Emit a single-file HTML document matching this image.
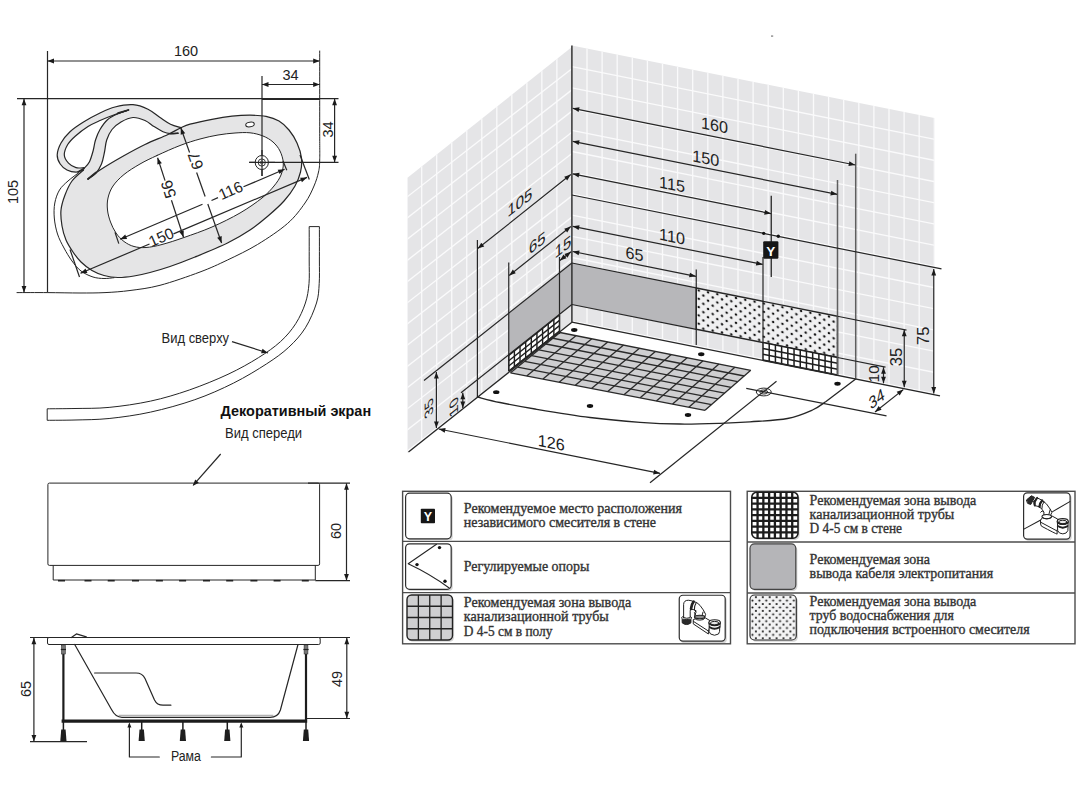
<!DOCTYPE html>
<html><head><meta charset="utf-8"><title>Bathtub installation diagram</title>
<style>html,body{margin:0;padding:0;background:#fff;}body{width:1085px;height:800px;overflow:hidden;font-family:"Liberation Sans",sans-serif;}svg{display:block}</style>
</head><body>
<svg width="1085" height="800" viewBox="0 0 1085 800">
<rect width="1085" height="800" fill="#fff"/>
<g id="topview">
<path d="M88.00,179.00 C90.00,177.50 94.25,173.75 100.00,170.00 C105.75,166.25 115.00,160.75 122.50,156.50 C130.00,152.25 137.50,148.13 145.00,144.50 C152.50,140.87 161.50,137.50 167.50,134.70 C173.50,131.90 177.25,129.45 181.00,127.70 C184.75,125.95 184.83,125.60 190.00,124.20 C195.17,122.80 205.00,120.63 212.00,119.30 C219.00,117.97 225.67,116.88 232.00,116.20 C238.33,115.52 244.33,115.18 250.00,115.20 C255.67,115.22 261.17,115.33 266.00,116.30 C270.83,117.27 275.17,118.72 279.00,121.00 C282.83,123.28 286.00,126.33 289.00,130.00 C292.00,133.67 294.92,138.33 297.00,143.00 C299.08,147.67 300.92,153.17 301.50,158.00 C302.08,162.83 301.58,167.33 300.50,172.00 C299.42,176.67 297.75,181.17 295.00,186.00 C292.25,190.83 288.50,196.00 284.00,201.00 C279.50,206.00 273.67,211.17 268.00,216.00 C262.33,220.83 256.75,225.50 250.00,230.00 C243.25,234.50 236.67,238.50 227.50,243.00 C218.33,247.50 204.58,253.08 195.00,257.00 C185.42,260.92 177.50,263.92 170.00,266.50 C162.50,269.08 156.00,270.92 150.00,272.50 C144.00,274.08 139.33,275.17 134.00,276.00 C128.67,276.83 123.00,277.58 118.00,277.50 C113.00,277.42 108.33,276.67 104.00,275.50 C99.67,274.33 95.83,272.75 92.00,270.50 C88.17,268.25 84.17,265.08 81.00,262.00 C77.83,258.92 75.50,255.67 73.00,252.00 C70.50,248.33 67.83,244.33 66.00,240.00 C64.17,235.67 62.83,231.00 62.00,226.00 C61.17,221.00 60.50,215.17 61.00,210.00 C61.50,204.83 63.17,199.83 65.00,195.00 C66.83,190.17 68.92,185.17 72.00,181.00 C75.08,176.83 81.58,171.83 83.50,170.00 Z" fill="#e5e5e6" stroke="none"/>
<path d="M181.00,127.70 C179.25,127.12 174.00,125.90 170.50,124.20 C167.00,122.50 163.75,120.00 160.00,117.50 C156.25,115.00 152.50,111.33 148.00,109.20 C143.50,107.07 138.50,105.07 133.00,104.70 C127.50,104.33 120.50,105.62 115.00,107.00 C109.50,108.38 105.25,110.50 100.00,113.00 C94.75,115.50 88.50,118.88 83.50,122.00 C78.50,125.12 73.75,128.20 70.00,131.70 C66.25,135.20 63.13,139.12 61.00,143.00 C58.87,146.88 57.33,151.50 57.20,155.00 C57.07,158.50 58.57,161.50 60.20,164.00 C61.83,166.50 64.37,168.63 67.00,170.00 C69.63,171.37 73.25,172.20 76.00,172.20 C78.75,172.20 82.25,170.37 83.50,170.00 L88,179 L88.00,179.00 C89.25,178.12 93.25,176.20 95.50,173.70 C97.75,171.20 100.00,167.62 101.50,164.00 C103.00,160.38 103.63,156.00 104.50,152.00 C105.37,148.00 105.45,143.75 106.70,140.00 C107.95,136.25 109.62,132.50 112.00,129.50 C114.38,126.50 117.50,124.00 121.00,122.00 C124.50,120.00 129.00,117.75 133.00,117.50 C137.00,117.25 141.50,119.00 145.00,120.50 C148.50,122.00 151.00,124.63 154.00,126.50 C157.00,128.37 160.25,130.50 163.00,131.70 C165.75,132.90 168.00,133.45 170.50,133.70 C173.00,133.95 176.75,133.28 178.00,133.20 Z" fill="#e5e5e6" stroke="none"/>
<path d="M84.20,167.70 C82.83,167.70 78.62,168.45 76.00,167.70 C73.38,166.95 70.45,165.32 68.50,163.20 C66.55,161.08 64.43,158.12 64.30,155.00 C64.17,151.88 65.88,147.63 67.70,144.50 C69.52,141.37 71.82,139.20 75.20,136.20 C78.58,133.20 83.87,129.12 88.00,126.50 C92.13,123.88 95.50,122.50 100.00,120.50 C104.50,118.50 110.25,116.25 115.00,114.50 C119.75,112.75 126.25,110.75 128.50,110.00 L128.50,110.00 C126.75,110.62 121.50,112.08 118.00,113.70 C114.50,115.32 110.50,117.07 107.50,119.70 C104.50,122.33 102.00,126.12 100.00,129.50 C98.00,132.88 96.63,136.50 95.50,140.00 C94.37,143.50 94.20,146.88 93.20,150.50 C92.20,154.12 91.00,158.75 89.50,161.70 C88.00,164.65 85.08,167.12 84.20,168.20 Z" fill="#fff" stroke="none"/>
<path d="M88.00,179.00 C90.00,177.50 94.25,173.75 100.00,170.00 C105.75,166.25 115.00,160.75 122.50,156.50 C130.00,152.25 137.50,148.13 145.00,144.50 C152.50,140.87 161.50,137.50 167.50,134.70 C173.50,131.90 177.25,129.45 181.00,127.70 C184.75,125.95 184.83,125.60 190.00,124.20 C195.17,122.80 205.00,120.63 212.00,119.30 C219.00,117.97 225.67,116.88 232.00,116.20 C238.33,115.52 244.33,115.18 250.00,115.20 C255.67,115.22 261.17,115.33 266.00,116.30 C270.83,117.27 275.17,118.72 279.00,121.00 C282.83,123.28 286.00,126.33 289.00,130.00 C292.00,133.67 294.92,138.33 297.00,143.00 C299.08,147.67 300.92,153.17 301.50,158.00 C302.08,162.83 301.58,167.33 300.50,172.00 C299.42,176.67 297.75,181.17 295.00,186.00 C292.25,190.83 288.50,196.00 284.00,201.00 C279.50,206.00 273.67,211.17 268.00,216.00 C262.33,220.83 256.75,225.50 250.00,230.00 C243.25,234.50 236.67,238.50 227.50,243.00 C218.33,247.50 204.58,253.08 195.00,257.00 C185.42,260.92 177.50,263.92 170.00,266.50 C162.50,269.08 156.00,270.92 150.00,272.50 C144.00,274.08 139.33,275.17 134.00,276.00 C128.67,276.83 123.00,277.58 118.00,277.50 C113.00,277.42 108.33,276.67 104.00,275.50 C99.67,274.33 95.83,272.75 92.00,270.50 C88.17,268.25 84.17,265.08 81.00,262.00 C77.83,258.92 75.50,255.67 73.00,252.00 C70.50,248.33 67.83,244.33 66.00,240.00 C64.17,235.67 62.83,231.00 62.00,226.00 C61.17,221.00 60.50,215.17 61.00,210.00 C61.50,204.83 63.17,199.83 65.00,195.00 C66.83,190.17 68.92,185.17 72.00,181.00 C75.08,176.83 81.58,171.83 83.50,170.00" fill="none" stroke="#262626" stroke-width="1.2" stroke-linejoin="round" stroke-linecap="round" />
<path d="M181.00,127.70 C179.25,127.12 174.00,125.90 170.50,124.20 C167.00,122.50 163.75,120.00 160.00,117.50 C156.25,115.00 152.50,111.33 148.00,109.20 C143.50,107.07 138.50,105.07 133.00,104.70 C127.50,104.33 120.50,105.62 115.00,107.00 C109.50,108.38 105.25,110.50 100.00,113.00 C94.75,115.50 88.50,118.88 83.50,122.00 C78.50,125.12 73.75,128.20 70.00,131.70 C66.25,135.20 63.13,139.12 61.00,143.00 C58.87,146.88 57.33,151.50 57.20,155.00 C57.07,158.50 58.57,161.50 60.20,164.00 C61.83,166.50 64.37,168.63 67.00,170.00 C69.63,171.37 73.25,172.20 76.00,172.20 C78.75,172.20 82.25,170.37 83.50,170.00" fill="none" stroke="#262626" stroke-width="1.2" stroke-linejoin="round" stroke-linecap="round" />
<path d="M88.00,179.00 C89.25,178.12 93.25,176.20 95.50,173.70 C97.75,171.20 100.00,167.62 101.50,164.00 C103.00,160.38 103.63,156.00 104.50,152.00 C105.37,148.00 105.45,143.75 106.70,140.00 C107.95,136.25 109.62,132.50 112.00,129.50 C114.38,126.50 117.50,124.00 121.00,122.00 C124.50,120.00 129.00,117.75 133.00,117.50 C137.00,117.25 141.50,119.00 145.00,120.50 C148.50,122.00 151.00,124.63 154.00,126.50 C157.00,128.37 160.25,130.50 163.00,131.70 C165.75,132.90 168.00,133.45 170.50,133.70 C173.00,133.95 176.75,133.28 178.00,133.20" fill="none" stroke="#262626" stroke-width="1.2" stroke-linejoin="round" stroke-linecap="round" />
<path d="M84.20,167.70 C82.83,167.70 78.62,168.45 76.00,167.70 C73.38,166.95 70.45,165.32 68.50,163.20 C66.55,161.08 64.43,158.12 64.30,155.00 C64.17,151.88 65.88,147.63 67.70,144.50 C69.52,141.37 71.82,139.20 75.20,136.20 C78.58,133.20 83.87,129.12 88.00,126.50 C92.13,123.88 95.50,122.50 100.00,120.50 C104.50,118.50 110.25,116.25 115.00,114.50 C119.75,112.75 126.25,110.75 128.50,110.00" fill="none" stroke="#262626" stroke-width="1.2" stroke-linejoin="round" stroke-linecap="round" />
<path d="M128.50,110.00 C126.75,110.62 121.50,112.08 118.00,113.70 C114.50,115.32 110.50,117.07 107.50,119.70 C104.50,122.33 102.00,126.12 100.00,129.50 C98.00,132.88 96.63,136.50 95.50,140.00 C94.37,143.50 94.20,146.88 93.20,150.50 C92.20,154.12 91.00,158.75 89.50,161.70 C88.00,164.65 85.08,167.12 84.20,168.20" fill="none" stroke="#262626" stroke-width="1.2" stroke-linejoin="round" stroke-linecap="round" />
<path d="M128.5,110 L118,113.2" fill="none" stroke="#262626" stroke-width="1.8" stroke-linejoin="round" stroke-linecap="round" />
<path d="M88,179 L96,172.5" fill="none" stroke="#262626" stroke-width="1.8" stroke-linejoin="round" stroke-linecap="round" />
<path d="M178,133.2 L170,133.8" fill="none" stroke="#262626" stroke-width="1.6" stroke-linejoin="round" stroke-linecap="round" />
<path d="M84,168.5 L78,172" fill="none" stroke="#262626" stroke-width="1.6" stroke-linejoin="round" stroke-linecap="round" />
<path d="M79.00,172.50 C77.17,173.92 71.25,178.08 68.00,181.00 C64.75,183.92 61.70,186.33 59.50,190.00 C57.30,193.67 55.67,198.33 54.80,203.00 C53.93,207.67 53.85,212.83 54.30,218.00 C54.75,223.17 55.88,229.00 57.50,234.00 C59.12,239.00 61.58,243.50 64.00,248.00 C66.42,252.50 69.17,257.17 72.00,261.00 C74.83,264.83 77.50,268.33 81.00,271.00 C84.50,273.67 89.17,275.75 93.00,277.00 C96.83,278.25 100.50,278.38 104.00,278.50 C107.50,278.62 112.33,277.83 114.00,277.70" fill="none" stroke="#262626" stroke-width="1" stroke-linejoin="round" stroke-linecap="round" />
<path d="M157.00,155.50 C150.33,158.58 145.50,160.83 140.00,164.00 C134.50,167.17 128.50,170.83 124.00,174.50 C119.50,178.17 115.67,182.08 113.00,186.00 C110.33,189.92 108.92,194.00 108.00,198.00 C107.08,202.00 107.08,206.00 107.50,210.00 C107.92,214.00 109.08,218.17 110.50,222.00 C111.92,225.83 113.75,229.75 116.00,233.00 C118.25,236.25 121.00,239.25 124.00,241.50 C127.00,243.75 130.33,245.50 134.00,246.50 C137.67,247.50 141.33,247.83 146.00,247.50 C150.67,247.17 155.67,246.17 162.00,244.50 C168.33,242.83 175.67,240.42 184.00,237.50 C192.33,234.58 202.67,231.08 212.00,227.00 C221.33,222.92 231.67,217.83 240.00,213.00 C248.33,208.17 256.33,202.50 262.00,198.00 C267.67,193.50 270.83,189.83 274.00,186.00 C277.17,182.17 279.45,178.83 281.00,175.00 C282.55,171.17 283.47,167.00 283.30,163.00 C283.13,159.00 281.72,154.50 280.00,151.00 C278.28,147.50 275.83,144.50 273.00,142.00 C270.17,139.50 266.83,137.53 263.00,136.00 C259.17,134.47 254.67,133.30 250.00,132.80 C245.33,132.30 240.33,132.63 235.00,133.00 C229.67,133.37 223.83,134.00 218.00,135.00 C212.17,136.00 206.33,137.25 200.00,139.00 C193.67,140.75 187.17,142.75 180.00,145.50 C172.83,148.25 163.67,152.42 157.00,155.50Z" fill="#fff" stroke="#262626" stroke-width="1" stroke-linejoin="round" stroke-linecap="round" />
<path d="M17.00,292.60 C22.08,292.60 37.00,292.53 47.50,292.60 C58.00,292.67 70.42,293.00 80.00,293.00 C89.58,293.00 96.67,293.02 105.00,292.60 C113.33,292.18 120.83,291.72 130.00,290.50 C139.17,289.28 148.33,288.38 160.00,285.30 C171.67,282.22 188.75,276.22 200.00,272.00 C211.25,267.78 217.92,264.58 227.50,260.00 C237.08,255.42 247.50,250.58 257.50,244.50 C267.50,238.42 279.58,230.42 287.50,223.50 C295.42,216.58 300.58,209.25 305.00,203.00 C309.42,196.75 311.75,191.17 314.00,186.00 C316.25,180.83 317.55,176.33 318.50,172.00 C319.45,167.67 319.50,167.00 319.70,160.00 C319.90,153.00 319.70,148.17 319.70,130.00 C319.70,111.83 319.70,64.17 319.70,51.00" fill="none" stroke="#262626" stroke-width="1" stroke-linejoin="round" stroke-linecap="round" />
<line x1="47.50" y1="51.00" x2="47.50" y2="292.60" stroke="#262626" stroke-width="1.2" />
<line x1="17.00" y1="98.60" x2="338.50" y2="98.60" stroke="#262626" stroke-width="1.2" />
<line x1="262.00" y1="99.20" x2="320.00" y2="99.20" stroke="#262626" stroke-width="1.6" />
<line x1="262.00" y1="76.00" x2="262.00" y2="176.00" stroke="#262626" stroke-width="1.2" />
<line x1="249.20" y1="162.40" x2="338.50" y2="162.40" stroke="#262626" stroke-width="1.2" />
<ellipse cx="261.8" cy="162.5" rx="6.6" ry="7" fill="#fff" stroke="#262626" stroke-width="1"/>
<circle cx="261.8" cy="162.5" r="3.6" fill="none" stroke="#262626" stroke-width="0.9"/>
<circle cx="261.8" cy="162.5" r="1.5" fill="none" stroke="#262626" stroke-width="0.7"/>
<line x1="262.00" y1="150.00" x2="262.00" y2="176.00" stroke="#262626" stroke-width="1.2" />
<line x1="249.20" y1="162.40" x2="275.00" y2="162.40" stroke="#262626" stroke-width="1.2" />
<ellipse cx="250" cy="124.5" rx="4.3" ry="2.3" fill="#fff" stroke="#262626" stroke-width="1" transform="rotate(-8 250 124.5)"/>
<line x1="47.50" y1="61.00" x2="319.70" y2="61.00" stroke="#262626" stroke-width="1.2" />
<polygon points="47.50,61.00 54.00,58.60 54.00,63.40" fill="#1a1a1a"/>
<polygon points="319.70,61.00 313.20,63.40 313.20,58.60" fill="#1a1a1a"/>
<text x="186.00" y="55.72" font-family="Liberation Sans" font-size="14.5" font-weight="normal" fill="#222" text-anchor="middle" >160</text>
<line x1="262.00" y1="84.50" x2="319.70" y2="84.50" stroke="#262626" stroke-width="1.2" />
<polygon points="262.00,84.50 268.50,82.10 268.50,86.90" fill="#1a1a1a"/>
<polygon points="319.70,84.50 313.20,86.90 313.20,82.10" fill="#1a1a1a"/>
<text x="290.50" y="79.72" font-family="Liberation Sans" font-size="14.5" font-weight="normal" fill="#222" text-anchor="middle" >34</text>
<line x1="334.60" y1="98.80" x2="334.60" y2="162.20" stroke="#262626" stroke-width="1.2" />
<polygon points="334.60,98.80 337.00,105.30 332.20,105.30" fill="#1a1a1a"/>
<polygon points="334.60,162.20 332.20,155.70 337.00,155.70" fill="#1a1a1a"/>
<text x="332.82" y="129.50" font-family="Liberation Sans" font-size="14.5" font-weight="normal" fill="#222" text-anchor="middle" transform="rotate(-90.00 332.82 129.50)" >34</text>
<line x1="24.00" y1="98.80" x2="24.00" y2="292.40" stroke="#262626" stroke-width="1.2" />
<polygon points="24.00,98.80 26.40,105.30 21.60,105.30" fill="#1a1a1a"/>
<polygon points="24.00,292.40 21.60,285.90 26.40,285.90" fill="#1a1a1a"/>
<text x="17.82" y="192.00" font-family="Liberation Sans" font-size="14.5" font-weight="normal" fill="#222" text-anchor="middle" transform="rotate(-90.00 17.82 192.00)" >105</text>
<line x1="80.50" y1="273.20" x2="149.50" y2="244.02" stroke="#262626" stroke-width="1.2" />
<line x1="173.50" y1="233.86" x2="307.00" y2="177.40" stroke="#262626" stroke-width="1.2" />
<polygon points="80.50,273.20 85.55,268.46 87.42,272.88" fill="#1a1a1a"/>
<polygon points="307.00,177.40 301.95,182.14 300.08,177.72" fill="#1a1a1a"/>
<line x1="70.00" y1="249.50" x2="79.50" y2="277.00" stroke="#262626" stroke-width="1.2" />
<line x1="300.00" y1="155.00" x2="309.30" y2="179.50" stroke="#262626" stroke-width="1.2" />
<line x1="120.20" y1="239.30" x2="202.50" y2="204.26" stroke="#262626" stroke-width="1.2" />
<line x1="211.50" y1="200.43" x2="218.00" y2="197.66" stroke="#262626" stroke-width="1.2" />
<line x1="243.50" y1="186.80" x2="284.60" y2="169.30" stroke="#262626" stroke-width="1.2" />
<polygon points="120.20,239.30 125.24,234.55 127.12,238.96" fill="#1a1a1a"/>
<polygon points="284.60,169.30 279.56,174.05 277.68,169.64" fill="#1a1a1a"/>
<line x1="115.00" y1="232.20" x2="118.80" y2="243.60" stroke="#262626" stroke-width="1.2" />
<line x1="283.00" y1="161.00" x2="286.80" y2="170.20" stroke="#262626" stroke-width="1.2" />
<line x1="180.80" y1="127.80" x2="189.55" y2="152.50" stroke="#262626" stroke-width="1.2" />
<line x1="196.63" y1="172.50" x2="205.13" y2="196.50" stroke="#262626" stroke-width="1.2" />
<line x1="207.79" y1="204.00" x2="221.60" y2="243.00" stroke="#262626" stroke-width="1.2" />
<polygon points="180.80,127.80 185.23,133.13 180.71,134.73" fill="#1a1a1a"/>
<polygon points="221.60,243.00 217.17,237.67 221.69,236.07" fill="#1a1a1a"/>
<line x1="157.60" y1="157.70" x2="165.05" y2="180.60" stroke="#262626" stroke-width="1.2" />
<line x1="171.46" y1="200.30" x2="183.50" y2="237.30" stroke="#262626" stroke-width="1.2" />
<polygon points="157.60,157.70 161.89,163.14 157.33,164.62" fill="#1a1a1a"/>
<polygon points="183.50,237.30 179.21,231.86 183.77,230.38" fill="#1a1a1a"/>
<text x="163.43" y="242.12" font-family="Liberation Sans" font-size="15.5" font-weight="normal" fill="#222" text-anchor="middle" transform="rotate(-23.50 163.43 242.12)" >150</text>
<text x="232.73" y="195.42" font-family="Liberation Sans" font-size="15.5" font-weight="normal" fill="#222" text-anchor="middle" transform="rotate(-23.50 232.73 195.42)" >116</text>
<text x="200.83" y="158.88" font-family="Liberation Sans" font-size="16" font-weight="normal" fill="#222" text-anchor="middle" transform="rotate(-109.50 200.83 158.88)" >67</text>
<text x="173.68" y="187.42" font-family="Liberation Sans" font-size="16" font-weight="normal" fill="#222" text-anchor="middle" transform="rotate(-108.00 173.68 187.42)" >56</text>
</g>
<g id="screen-top">
<path d="M319.40,227.00 C319.40,232.50 319.43,250.57 319.40,260.00 C319.37,269.43 319.68,276.43 319.20,283.60 C318.72,290.77 318.80,295.63 316.50,303.00 C314.20,310.37 310.02,320.43 305.40,327.80 C300.78,335.17 295.25,341.20 288.80,347.20 C282.35,353.20 275.92,357.82 266.70,363.80 C257.48,369.78 245.48,377.12 233.50,383.10 C221.52,389.08 208.62,394.87 194.80,399.70 C180.98,404.53 164.88,408.97 150.60,412.10 C136.32,415.23 121.70,417.18 109.10,418.50 C96.50,419.82 85.32,419.70 75.00,420.00 C64.68,420.30 51.83,420.25 47.20,420.30 L47.2,408.8 L47.20,408.80 C51.83,408.75 64.68,408.73 75.00,408.50 C85.32,408.27 96.50,408.63 109.10,407.40 C121.70,406.17 137.23,404.00 150.60,401.10 C163.97,398.20 176.40,394.47 189.30,390.00 C202.20,385.53 216.48,379.68 228.00,374.30 C239.52,368.92 249.65,363.15 258.40,357.70 C267.15,352.25 274.28,347.27 280.50,341.60 C286.72,335.93 291.55,330.13 295.70,323.70 C299.85,317.27 303.18,309.68 305.40,303.00 C307.62,296.32 308.37,290.77 309.00,283.60 C309.63,276.43 309.17,269.43 309.20,260.00 C309.23,250.57 309.20,232.50 309.20,227.00 Z" fill="#fff" stroke="#262626" stroke-width="1" stroke-linejoin="round" stroke-linecap="round" />
<text x="161.60" y="342.50" font-family="Liberation Sans" font-size="14" font-weight="normal" fill="#222" text-anchor="start" textLength="67.5" lengthAdjust="spacingAndGlyphs" >Вид сверху</text>
<line x1="232.00" y1="341.60" x2="268.00" y2="353.00" stroke="#262626" stroke-width="1.2" />
<polygon points="268.00,353.00 261.08,353.33 262.53,348.75" fill="#1a1a1a"/>
<text x="220.60" y="415.50" font-family="Liberation Sans" font-size="14" font-weight="bold" fill="#111" text-anchor="start" textLength="150.5" lengthAdjust="spacingAndGlyphs" >Декоративный экран</text>
<text x="225.00" y="438.00" font-family="Liberation Sans" font-size="14" font-weight="normal" fill="#222" text-anchor="start" textLength="77" lengthAdjust="spacingAndGlyphs" >Вид спереди</text>
</g>
<g id="front">
<rect x="47.9" y="483.1" width="271.7" height="82.3" rx="1.5" fill="#fff" stroke="#262626" stroke-width="1"/>
<path d="M53.2,565.4 V580 H315.3 V565.4" fill="none" stroke="#262626" stroke-width="1"/>
<line x1="58.00" y1="580.70" x2="65.00" y2="580.70" stroke="#222" stroke-width="1.6" />
<line x1="84.50" y1="580.70" x2="91.50" y2="580.70" stroke="#222" stroke-width="1.6" />
<line x1="107.70" y1="580.70" x2="114.70" y2="580.70" stroke="#222" stroke-width="1.6" />
<line x1="132.00" y1="580.70" x2="139.00" y2="580.70" stroke="#222" stroke-width="1.6" />
<line x1="155.90" y1="580.70" x2="162.90" y2="580.70" stroke="#222" stroke-width="1.6" />
<line x1="179.10" y1="580.70" x2="186.10" y2="580.70" stroke="#222" stroke-width="1.6" />
<line x1="203.00" y1="580.70" x2="210.00" y2="580.70" stroke="#222" stroke-width="1.6" />
<line x1="226.20" y1="580.70" x2="233.20" y2="580.70" stroke="#222" stroke-width="1.6" />
<line x1="250.40" y1="580.70" x2="257.40" y2="580.70" stroke="#222" stroke-width="1.6" />
<line x1="273.60" y1="580.70" x2="280.60" y2="580.70" stroke="#222" stroke-width="1.6" />
<line x1="301.80" y1="580.70" x2="308.80" y2="580.70" stroke="#222" stroke-width="1.6" />
<line x1="220.70" y1="454.00" x2="193.50" y2="484.80" stroke="#262626" stroke-width="1.2" />
<polygon points="192.70,486.00 195.22,479.54 198.81,482.73" fill="#1a1a1a"/>
<line x1="308.00" y1="483.10" x2="350.00" y2="483.10" stroke="#262626" stroke-width="1.2" />
<line x1="315.30" y1="580.70" x2="350.00" y2="580.70" stroke="#262626" stroke-width="1.2" />
<line x1="346.50" y1="483.30" x2="346.50" y2="580.50" stroke="#262626" stroke-width="1.2" />
<polygon points="346.50,483.30 348.90,489.80 344.10,489.80" fill="#1a1a1a"/>
<polygon points="346.50,580.50 344.10,574.00 348.90,574.00" fill="#1a1a1a"/>
<text x="340.72" y="531.00" font-family="Liberation Sans" font-size="14.5" font-weight="normal" fill="#222" text-anchor="middle" transform="rotate(-90.00 340.72 531.00)" >60</text>
</g>
<g id="side">
<line x1="30.00" y1="637.50" x2="350.00" y2="637.50" stroke="#262626" stroke-width="1.2" />
<rect x="47.5" y="637.5" width="272.7" height="7" rx="1.5" fill="#fff" stroke="#262626" stroke-width="1"/>
<path d="M71.4,637.5 L76.4,633.9 L86.3,636.8" fill="none" stroke="#262626" stroke-width="1.2" stroke-linejoin="round" stroke-linecap="round" />
<path d="M74.7,644.5 L111.5,709.5 Q115.5,717.3 122,717.3 L270,717.3 Q278,717.3 280.4,710 L298,644.5" fill="none" stroke="#262626" stroke-width="1.2" stroke-linejoin="round" stroke-linecap="round" />
<path d="M119,715.3 L273,715.3" fill="none" stroke="#888" stroke-width="0.8" stroke-linejoin="round" stroke-linecap="round" />
<path d="M94.6,673 L136,673 Q142.5,673 145,678.5 L154.5,700 Q157,705.2 163,705.2 L170.9,705.2" fill="none" stroke="#262626" stroke-width="1.2" stroke-linejoin="round" stroke-linecap="round" />
<line x1="61.60" y1="721.10" x2="307.20" y2="721.10" stroke="#1c1c1c" stroke-width="3.4" />
<line x1="63.40" y1="652.00" x2="63.40" y2="720.00" stroke="#1c1c1c" stroke-width="2.2" />
<rect x="61.5" y="645.5" width="3.8" height="8.5" fill="#777" stroke="#333" stroke-width="0.6"/>
<line x1="60.80" y1="649.50" x2="66.00" y2="649.50" stroke="#222" stroke-width="1.2" />
<line x1="63.40" y1="722.00" x2="63.40" y2="731.00" stroke="#1c1c1c" stroke-width="1.5" />
<path d="M61.199999999999996,729.5 h4.4 l0.9,11.6 h-6.2z" fill="#1e1e1e"/>
<line x1="306.00" y1="652.00" x2="306.00" y2="720.00" stroke="#1c1c1c" stroke-width="2.2" />
<rect x="304.1" y="645.5" width="3.8" height="8.5" fill="#777" stroke="#333" stroke-width="0.6"/>
<line x1="303.40" y1="649.50" x2="308.60" y2="649.50" stroke="#222" stroke-width="1.2" />
<line x1="306.00" y1="722.00" x2="306.00" y2="731.00" stroke="#1c1c1c" stroke-width="1.5" />
<path d="M303.8,729.5 h4.4 l0.9,11.6 h-6.2z" fill="#1e1e1e"/>
<line x1="141.70" y1="722.00" x2="141.70" y2="731.00" stroke="#1c1c1c" stroke-width="1.5" />
<path d="M139.5,729.5 h4.4 l0.9,11.6 h-6.2z" fill="#1e1e1e"/>
<line x1="182.90" y1="722.00" x2="182.90" y2="731.00" stroke="#1c1c1c" stroke-width="1.5" />
<path d="M180.70000000000002,729.5 h4.4 l0.9,11.6 h-6.2z" fill="#1e1e1e"/>
<line x1="227.30" y1="722.00" x2="227.30" y2="731.00" stroke="#1c1c1c" stroke-width="1.5" />
<path d="M225.10000000000002,729.5 h4.4 l0.9,11.6 h-6.2z" fill="#1e1e1e"/>
<line x1="33.90" y1="637.70" x2="33.90" y2="741.50" stroke="#262626" stroke-width="1.2" />
<polygon points="33.90,637.70 36.30,644.20 31.50,644.20" fill="#1a1a1a"/>
<polygon points="33.90,741.50 31.50,735.00 36.30,735.00" fill="#1a1a1a"/>
<line x1="30.00" y1="741.70" x2="87.00" y2="741.70" stroke="#262626" stroke-width="1.2" />
<text x="30.82" y="689.00" font-family="Liberation Sans" font-size="14.5" font-weight="normal" fill="#222" text-anchor="middle" transform="rotate(-90.00 30.82 689.00)" >65</text>
<line x1="307.00" y1="718.50" x2="350.00" y2="718.50" stroke="#262626" stroke-width="1.2" />
<line x1="346.80" y1="637.70" x2="346.80" y2="718.30" stroke="#262626" stroke-width="1.2" />
<polygon points="346.80,637.70 349.20,644.20 344.40,644.20" fill="#1a1a1a"/>
<polygon points="346.80,718.30 344.40,711.80 349.20,711.80" fill="#1a1a1a"/>
<text x="342.02" y="679.00" font-family="Liberation Sans" font-size="14.5" font-weight="normal" fill="#222" text-anchor="middle" transform="rotate(-90.00 342.02 679.00)" >49</text>
<text x="170.90" y="761.00" font-family="Liberation Sans" font-size="14" font-weight="normal" fill="#222" text-anchor="start" textLength="30" lengthAdjust="spacingAndGlyphs" >Рама</text>
<path d="M129.4,724 V757 H159.3" fill="none" stroke="#262626" stroke-width="1.2" stroke-linejoin="round" stroke-linecap="round" />
<polygon points="129.40,722.50 131.40,727.50 127.40,727.50" fill="#1a1a1a"/>
<path d="M241.3,724 V757 H211.4" fill="none" stroke="#262626" stroke-width="1.2" stroke-linejoin="round" stroke-linecap="round" />
<polygon points="241.30,722.50 243.30,727.50 239.30,727.50" fill="#1a1a1a"/>
</g>
<g id="iso">
<defs>
<clipPath id="cr"><polygon points="571.9,45.5 934.3,117.98 934.3,394.68 571.9,322.2"/></clipPath>
<clipPath id="cl"><polygon points="571.9,47 407.5,177.70 407.5,452.90 571.9,322.2"/></clipPath>
</defs>
<g clip-path="url(#cr)"><rect x="570" y="40" width="370" height="360" fill="#e5e5e7"/>
<line x1="587.00" y1="40.00" x2="587.00" y2="400.00" stroke="#fafafb" stroke-width="1.3" />
<line x1="602.10" y1="40.00" x2="602.10" y2="400.00" stroke="#fafafb" stroke-width="1.3" />
<line x1="617.20" y1="40.00" x2="617.20" y2="400.00" stroke="#fafafb" stroke-width="1.3" />
<line x1="632.30" y1="40.00" x2="632.30" y2="400.00" stroke="#fafafb" stroke-width="1.3" />
<line x1="647.40" y1="40.00" x2="647.40" y2="400.00" stroke="#fafafb" stroke-width="1.3" />
<line x1="662.50" y1="40.00" x2="662.50" y2="400.00" stroke="#fafafb" stroke-width="1.3" />
<line x1="677.60" y1="40.00" x2="677.60" y2="400.00" stroke="#fafafb" stroke-width="1.3" />
<line x1="692.70" y1="40.00" x2="692.70" y2="400.00" stroke="#fafafb" stroke-width="1.3" />
<line x1="707.80" y1="40.00" x2="707.80" y2="400.00" stroke="#fafafb" stroke-width="1.3" />
<line x1="722.90" y1="40.00" x2="722.90" y2="400.00" stroke="#fafafb" stroke-width="1.3" />
<line x1="738.00" y1="40.00" x2="738.00" y2="400.00" stroke="#fafafb" stroke-width="1.3" />
<line x1="753.10" y1="40.00" x2="753.10" y2="400.00" stroke="#fafafb" stroke-width="1.3" />
<line x1="768.20" y1="40.00" x2="768.20" y2="400.00" stroke="#fafafb" stroke-width="1.3" />
<line x1="783.30" y1="40.00" x2="783.30" y2="400.00" stroke="#fafafb" stroke-width="1.3" />
<line x1="798.40" y1="40.00" x2="798.40" y2="400.00" stroke="#fafafb" stroke-width="1.3" />
<line x1="813.50" y1="40.00" x2="813.50" y2="400.00" stroke="#fafafb" stroke-width="1.3" />
<line x1="828.60" y1="40.00" x2="828.60" y2="400.00" stroke="#fafafb" stroke-width="1.3" />
<line x1="843.70" y1="40.00" x2="843.70" y2="400.00" stroke="#fafafb" stroke-width="1.3" />
<line x1="858.80" y1="40.00" x2="858.80" y2="400.00" stroke="#fafafb" stroke-width="1.3" />
<line x1="873.90" y1="40.00" x2="873.90" y2="400.00" stroke="#fafafb" stroke-width="1.3" />
<line x1="889.00" y1="40.00" x2="889.00" y2="400.00" stroke="#fafafb" stroke-width="1.3" />
<line x1="904.10" y1="40.00" x2="904.10" y2="400.00" stroke="#fafafb" stroke-width="1.3" />
<line x1="919.20" y1="40.00" x2="919.20" y2="400.00" stroke="#fafafb" stroke-width="1.3" />
<line x1="934.30" y1="40.00" x2="934.30" y2="400.00" stroke="#fafafb" stroke-width="1.3" />
<line x1="571.90" y1="66.70" x2="940.00" y2="140.32" stroke="#fafafb" stroke-width="1.35" />
<line x1="571.90" y1="87.90" x2="940.00" y2="161.52" stroke="#fafafb" stroke-width="1.35" />
<line x1="571.90" y1="109.10" x2="940.00" y2="182.72" stroke="#fafafb" stroke-width="1.35" />
<line x1="571.90" y1="130.30" x2="940.00" y2="203.92" stroke="#fafafb" stroke-width="1.35" />
<line x1="571.90" y1="151.50" x2="940.00" y2="225.12" stroke="#fafafb" stroke-width="1.35" />
<line x1="571.90" y1="172.70" x2="940.00" y2="246.32" stroke="#fafafb" stroke-width="1.35" />
<line x1="571.90" y1="193.90" x2="940.00" y2="267.52" stroke="#fafafb" stroke-width="1.35" />
<line x1="571.90" y1="215.10" x2="940.00" y2="288.72" stroke="#fafafb" stroke-width="1.35" />
<line x1="571.90" y1="236.30" x2="940.00" y2="309.92" stroke="#fafafb" stroke-width="1.35" />
<line x1="571.90" y1="257.50" x2="940.00" y2="331.12" stroke="#fafafb" stroke-width="1.35" />
<line x1="571.90" y1="278.70" x2="940.00" y2="352.32" stroke="#fafafb" stroke-width="1.35" />
<line x1="571.90" y1="299.90" x2="940.00" y2="373.52" stroke="#fafafb" stroke-width="1.35" />
<line x1="571.90" y1="321.10" x2="940.00" y2="394.72" stroke="#fafafb" stroke-width="1.35" />
<rect x="771" y="35.3" width="2.2" height="1.6" fill="#9a9a9a"/>
</g>
<g clip-path="url(#cl)"><rect x="400" y="40" width="175" height="420" fill="#e5e5e7"/>
<line x1="556.88" y1="40.00" x2="556.88" y2="460.00" stroke="#fafafb" stroke-width="1.3" />
<line x1="541.86" y1="40.00" x2="541.86" y2="460.00" stroke="#fafafb" stroke-width="1.3" />
<line x1="526.84" y1="40.00" x2="526.84" y2="460.00" stroke="#fafafb" stroke-width="1.3" />
<line x1="511.82" y1="40.00" x2="511.82" y2="460.00" stroke="#fafafb" stroke-width="1.3" />
<line x1="496.80" y1="40.00" x2="496.80" y2="460.00" stroke="#fafafb" stroke-width="1.3" />
<line x1="481.78" y1="40.00" x2="481.78" y2="460.00" stroke="#fafafb" stroke-width="1.3" />
<line x1="466.76" y1="40.00" x2="466.76" y2="460.00" stroke="#fafafb" stroke-width="1.3" />
<line x1="451.74" y1="40.00" x2="451.74" y2="460.00" stroke="#fafafb" stroke-width="1.3" />
<line x1="436.72" y1="40.00" x2="436.72" y2="460.00" stroke="#fafafb" stroke-width="1.3" />
<line x1="421.70" y1="40.00" x2="421.70" y2="460.00" stroke="#fafafb" stroke-width="1.3" />
<line x1="406.68" y1="40.00" x2="406.68" y2="460.00" stroke="#fafafb" stroke-width="1.3" />
<line x1="571.90" y1="68.70" x2="400.00" y2="202.44" stroke="#fafafb" stroke-width="1.35" />
<line x1="571.90" y1="89.90" x2="400.00" y2="223.64" stroke="#fafafb" stroke-width="1.35" />
<line x1="571.90" y1="111.10" x2="400.00" y2="244.84" stroke="#fafafb" stroke-width="1.35" />
<line x1="571.90" y1="132.30" x2="400.00" y2="266.04" stroke="#fafafb" stroke-width="1.35" />
<line x1="571.90" y1="153.50" x2="400.00" y2="287.24" stroke="#fafafb" stroke-width="1.35" />
<line x1="571.90" y1="174.70" x2="400.00" y2="308.44" stroke="#fafafb" stroke-width="1.35" />
<line x1="571.90" y1="195.90" x2="400.00" y2="329.64" stroke="#fafafb" stroke-width="1.35" />
<line x1="571.90" y1="217.10" x2="400.00" y2="350.84" stroke="#fafafb" stroke-width="1.35" />
<line x1="571.90" y1="238.30" x2="400.00" y2="372.04" stroke="#fafafb" stroke-width="1.35" />
<line x1="571.90" y1="259.50" x2="400.00" y2="393.24" stroke="#fafafb" stroke-width="1.35" />
<line x1="571.90" y1="280.70" x2="400.00" y2="414.44" stroke="#fafafb" stroke-width="1.35" />
<line x1="571.90" y1="301.90" x2="400.00" y2="435.64" stroke="#fafafb" stroke-width="1.35" />
<line x1="571.90" y1="323.10" x2="400.00" y2="456.84" stroke="#fafafb" stroke-width="1.35" />
<line x1="571.90" y1="344.30" x2="400.00" y2="478.04" stroke="#fafafb" stroke-width="1.35" />
<line x1="571.90" y1="365.50" x2="400.00" y2="499.24" stroke="#fafafb" stroke-width="1.35" />
<line x1="571.90" y1="386.70" x2="400.00" y2="520.44" stroke="#fafafb" stroke-width="1.35" />
<line x1="571.90" y1="407.90" x2="400.00" y2="541.64" stroke="#fafafb" stroke-width="1.35" />
<line x1="571.90" y1="429.10" x2="400.00" y2="562.84" stroke="#fafafb" stroke-width="1.35" />
<line x1="571.90" y1="450.30" x2="400.00" y2="584.04" stroke="#fafafb" stroke-width="1.35" />
<rect x="771" y="35.3" width="2.2" height="1.6" fill="#9a9a9a"/>
</g>
<polygon points="571.90,263.00 696.25,287.87 696.25,329.37 571.90,304.50" fill="#b7b7ba" stroke="none" stroke-width="1" stroke-linejoin="round" />
<polygon points="571.90,263.00 508.75,313.20 508.75,354.70 571.90,304.50" fill="#b7b7ba" stroke="none" stroke-width="1" stroke-linejoin="round" />
<defs><pattern id="dots" width="9.3" height="8.3" patternUnits="userSpaceOnUse" patternTransform="matrix(1,0.2,0,1,698.75,290.5)"><rect x="-1" y="-1" width="11.3" height="10.3" fill="#f0f0f1"/><ellipse cx="0" cy="0" rx="1.25" ry="1.1" fill="#111"/><ellipse cx="9.3" cy="0" rx="1.25" ry="1.1" fill="#111"/><ellipse cx="0" cy="8.3" rx="1.25" ry="1.1" fill="#111"/><ellipse cx="9.3" cy="8.3" rx="1.25" ry="1.1" fill="#111"/><ellipse cx="4.65" cy="4.15" rx="1.25" ry="1.1" fill="#111"/></pattern></defs>
<polygon points="696.25,288.00 837.50,316.25 837.50,357.50 696.25,329.25" fill="url(#dots)" stroke="#262626" stroke-width="1.4" stroke-linejoin="round" />
<polygon points="763.00,342.60 837.50,357.50 837.50,375.00 763.00,360.00" fill="#fff" stroke="none" stroke-width="1" stroke-linejoin="round" />
<line x1="763.00" y1="342.60" x2="763.00" y2="360.20" stroke="#1e1e1e" stroke-width="1.5" />
<line x1="769.21" y1="343.84" x2="769.21" y2="361.44" stroke="#1e1e1e" stroke-width="1.5" />
<line x1="775.42" y1="345.08" x2="775.42" y2="362.68" stroke="#1e1e1e" stroke-width="1.5" />
<line x1="781.62" y1="346.32" x2="781.62" y2="363.92" stroke="#1e1e1e" stroke-width="1.5" />
<line x1="787.83" y1="347.57" x2="787.83" y2="365.17" stroke="#1e1e1e" stroke-width="1.5" />
<line x1="794.04" y1="348.81" x2="794.04" y2="366.41" stroke="#1e1e1e" stroke-width="1.5" />
<line x1="800.25" y1="350.05" x2="800.25" y2="367.65" stroke="#1e1e1e" stroke-width="1.5" />
<line x1="806.46" y1="351.29" x2="806.46" y2="368.89" stroke="#1e1e1e" stroke-width="1.5" />
<line x1="812.67" y1="352.53" x2="812.67" y2="370.13" stroke="#1e1e1e" stroke-width="1.5" />
<line x1="818.88" y1="353.77" x2="818.88" y2="371.38" stroke="#1e1e1e" stroke-width="1.5" />
<line x1="825.08" y1="355.02" x2="825.08" y2="372.62" stroke="#1e1e1e" stroke-width="1.5" />
<line x1="831.29" y1="356.26" x2="831.29" y2="373.86" stroke="#1e1e1e" stroke-width="1.5" />
<line x1="837.50" y1="357.50" x2="837.50" y2="375.10" stroke="#1e1e1e" stroke-width="1.5" />
<line x1="763.00" y1="342.60" x2="837.50" y2="357.50" stroke="#1e1e1e" stroke-width="1.5" />
<line x1="763.00" y1="348.43" x2="837.50" y2="363.33" stroke="#1e1e1e" stroke-width="1.5" />
<line x1="763.00" y1="354.27" x2="837.50" y2="369.17" stroke="#1e1e1e" stroke-width="1.5" />
<line x1="763.00" y1="360.10" x2="837.50" y2="375.00" stroke="#1e1e1e" stroke-width="1.5" />
<polygon points="559.50,315.00 508.75,355.30 508.75,371.00 559.50,331.30" fill="#fff" stroke="none" stroke-width="1" stroke-linejoin="round" />
<line x1="559.50" y1="315.00" x2="559.50" y2="331.00" stroke="#1e1e1e" stroke-width="1.4" />
<line x1="553.86" y1="319.48" x2="553.86" y2="335.48" stroke="#1e1e1e" stroke-width="1.4" />
<line x1="548.22" y1="323.97" x2="548.22" y2="339.97" stroke="#1e1e1e" stroke-width="1.4" />
<line x1="542.58" y1="328.45" x2="542.58" y2="344.45" stroke="#1e1e1e" stroke-width="1.4" />
<line x1="536.94" y1="332.93" x2="536.94" y2="348.93" stroke="#1e1e1e" stroke-width="1.4" />
<line x1="531.31" y1="337.41" x2="531.31" y2="353.41" stroke="#1e1e1e" stroke-width="1.4" />
<line x1="525.67" y1="341.90" x2="525.67" y2="357.90" stroke="#1e1e1e" stroke-width="1.4" />
<line x1="520.03" y1="346.38" x2="520.03" y2="362.38" stroke="#1e1e1e" stroke-width="1.4" />
<line x1="514.39" y1="350.86" x2="514.39" y2="366.86" stroke="#1e1e1e" stroke-width="1.4" />
<line x1="508.75" y1="355.35" x2="508.75" y2="371.35" stroke="#1e1e1e" stroke-width="1.4" />
<line x1="559.50" y1="315.00" x2="508.75" y2="355.35" stroke="#1e1e1e" stroke-width="1.4" />
<line x1="559.50" y1="320.33" x2="508.75" y2="360.68" stroke="#1e1e1e" stroke-width="1.4" />
<line x1="559.50" y1="325.67" x2="508.75" y2="366.01" stroke="#1e1e1e" stroke-width="1.4" />
<line x1="559.50" y1="331.00" x2="508.75" y2="371.35" stroke="#1e1e1e" stroke-width="1.4" />
<polygon points="560.00,332.50 750.75,370.30 705.00,410.30 510.50,372.80" fill="#cfcfd1" stroke="none" stroke-width="1" stroke-linejoin="round" />
<line x1="560.00" y1="332.50" x2="510.50" y2="372.80" stroke="#2a2a2a" stroke-width="1.3" />
<line x1="575.90" y1="335.65" x2="526.71" y2="375.93" stroke="#2a2a2a" stroke-width="1.3" />
<line x1="591.79" y1="338.80" x2="542.92" y2="379.05" stroke="#2a2a2a" stroke-width="1.3" />
<line x1="607.69" y1="341.95" x2="559.12" y2="382.18" stroke="#2a2a2a" stroke-width="1.3" />
<line x1="623.58" y1="345.10" x2="575.33" y2="385.30" stroke="#2a2a2a" stroke-width="1.3" />
<line x1="639.48" y1="348.25" x2="591.54" y2="388.43" stroke="#2a2a2a" stroke-width="1.3" />
<line x1="655.38" y1="351.40" x2="607.75" y2="391.55" stroke="#2a2a2a" stroke-width="1.3" />
<line x1="671.27" y1="354.55" x2="623.96" y2="394.68" stroke="#2a2a2a" stroke-width="1.3" />
<line x1="687.17" y1="357.70" x2="640.17" y2="397.80" stroke="#2a2a2a" stroke-width="1.3" />
<line x1="703.06" y1="360.85" x2="656.38" y2="400.93" stroke="#2a2a2a" stroke-width="1.3" />
<line x1="718.96" y1="364.00" x2="672.58" y2="404.05" stroke="#2a2a2a" stroke-width="1.3" />
<line x1="734.85" y1="367.15" x2="688.79" y2="407.18" stroke="#2a2a2a" stroke-width="1.3" />
<line x1="750.75" y1="370.30" x2="705.00" y2="410.30" stroke="#2a2a2a" stroke-width="1.3" />
<line x1="560.00" y1="332.50" x2="750.75" y2="370.30" stroke="#2a2a2a" stroke-width="1.3" />
<line x1="552.93" y1="338.26" x2="744.21" y2="376.01" stroke="#2a2a2a" stroke-width="1.3" />
<line x1="545.86" y1="344.01" x2="737.68" y2="381.73" stroke="#2a2a2a" stroke-width="1.3" />
<line x1="538.79" y1="349.77" x2="731.14" y2="387.44" stroke="#2a2a2a" stroke-width="1.3" />
<line x1="531.71" y1="355.53" x2="724.61" y2="393.16" stroke="#2a2a2a" stroke-width="1.3" />
<line x1="524.64" y1="361.29" x2="718.07" y2="398.87" stroke="#2a2a2a" stroke-width="1.3" />
<line x1="517.57" y1="367.04" x2="711.54" y2="404.59" stroke="#2a2a2a" stroke-width="1.3" />
<line x1="510.50" y1="372.80" x2="705.00" y2="410.30" stroke="#2a2a2a" stroke-width="1.3" />
<line x1="571.90" y1="263.00" x2="696.25" y2="287.87" stroke="#262626" stroke-width="1.2" />
<line x1="571.90" y1="304.50" x2="696.25" y2="329.37" stroke="#262626" stroke-width="1.2" />
<line x1="571.90" y1="263.00" x2="424.00" y2="380.58" stroke="#262626" stroke-width="1.2" />
<line x1="571.90" y1="304.50" x2="461.00" y2="392.67" stroke="#262626" stroke-width="1.2" />
<line x1="508.75" y1="371.00" x2="559.50" y2="331.30" stroke="#262626" stroke-width="1.2" />
<line x1="571.90" y1="45.50" x2="571.90" y2="322.20" stroke="#262626" stroke-width="1.4" />
<line x1="571.90" y1="322.20" x2="940.00" y2="395.82" stroke="#262626" stroke-width="1.3" />
<line x1="571.90" y1="322.20" x2="408.50" y2="452.10" stroke="#262626" stroke-width="1.3" />
<line x1="696.25" y1="269.50" x2="696.25" y2="345.00" stroke="#262626" stroke-width="1.2" />
<line x1="763.00" y1="257.00" x2="763.00" y2="342.60" stroke="#262626" stroke-width="1.2" />
<line x1="771.25" y1="195.70" x2="771.25" y2="277.00" stroke="#262626" stroke-width="1.3" />
<line x1="855.70" y1="153.70" x2="855.70" y2="379.00" stroke="#5e5e5e" stroke-width="1.5" />
<line x1="837.50" y1="180.00" x2="837.50" y2="375.00" stroke="#5e5e5e" stroke-width="1.5" />
<line x1="508.75" y1="262.50" x2="508.75" y2="371.00" stroke="#262626" stroke-width="1.2" />
<line x1="559.50" y1="257.00" x2="559.50" y2="334.00" stroke="#262626" stroke-width="1.2" />
<line x1="477.40" y1="240.00" x2="477.40" y2="397.00" stroke="#262626" stroke-width="1.2" />
<line x1="572.70" y1="108.30" x2="855.30" y2="164.98" stroke="#262626" stroke-width="1.2" />
<polygon points="572.70,108.30 579.55,107.23 578.60,111.93" fill="#1a1a1a"/>
<polygon points="855.30,164.98 848.45,166.05 849.40,161.35" fill="#1a1a1a"/>
<line x1="572.70" y1="141.30" x2="837.20" y2="194.36" stroke="#262626" stroke-width="1.2" />
<polygon points="572.70,141.30 579.55,140.23 578.60,144.93" fill="#1a1a1a"/>
<polygon points="837.20,194.36 830.35,195.43 831.30,190.73" fill="#1a1a1a"/>
<line x1="572.70" y1="173.80" x2="771.00" y2="213.62" stroke="#262626" stroke-width="1.2" />
<polygon points="572.70,173.80 579.55,172.73 578.60,177.43" fill="#1a1a1a"/>
<polygon points="771.00,213.62 764.15,214.69 765.10,209.99" fill="#1a1a1a"/>
<line x1="571.90" y1="195.00" x2="941.50" y2="268.92" stroke="#262626" stroke-width="1.2" />
<line x1="572.70" y1="226.30" x2="762.70" y2="264.46" stroke="#262626" stroke-width="1.2" />
<polygon points="572.70,226.30 579.55,225.23 578.60,229.93" fill="#1a1a1a"/>
<polygon points="762.70,264.46 755.85,265.53 756.80,260.83" fill="#1a1a1a"/>
<line x1="572.70" y1="251.50" x2="695.90" y2="276.30" stroke="#262626" stroke-width="1.2" />
<polygon points="572.70,251.50 579.55,250.43 578.60,255.14" fill="#1a1a1a"/>
<polygon points="695.90,276.30 689.05,277.37 690.00,272.66" fill="#1a1a1a"/>
<circle cx="763.7" cy="233.36" r="1.7" fill="#111"/><circle cx="778.3" cy="236.28" r="1.7" fill="#111"/>
<rect x="763.2" y="241.2" width="15.2" height="17.6" rx="1.2" fill="#161616"/>
<text x="770.80" y="255.60" font-family="Liberation Sans" font-size="13.5" font-weight="bold" fill="#fff" text-anchor="middle" >Y</text>
<line x1="570.80" y1="174.57" x2="477.70" y2="248.59" stroke="#262626" stroke-width="1.2" />
<polygon points="570.80,174.57 567.21,180.50 564.22,176.74" fill="#1a1a1a"/>
<polygon points="477.70,248.59 481.29,242.67 484.28,246.42" fill="#1a1a1a"/>
<line x1="570.80" y1="226.47" x2="509.20" y2="275.45" stroke="#262626" stroke-width="1.2" />
<polygon points="570.80,226.47 567.21,232.40 564.22,228.64" fill="#1a1a1a"/>
<polygon points="509.20,275.45 512.79,269.52 515.78,273.28" fill="#1a1a1a"/>
<line x1="571.00" y1="251.72" x2="559.90" y2="260.54" stroke="#262626" stroke-width="1.2" />
<polygon points="571.00,251.72 567.41,257.64 564.42,253.88" fill="#1a1a1a"/>
<polygon points="559.90,260.54 563.49,254.62 566.48,258.37" fill="#1a1a1a"/>
<line x1="837.50" y1="316.25" x2="906.50" y2="330.05" stroke="#262626" stroke-width="1.2" />
<line x1="837.50" y1="357.50" x2="885.50" y2="367.10" stroke="#262626" stroke-width="1.2" />
<line x1="904.25" y1="329.70" x2="904.25" y2="387.30" stroke="#262626" stroke-width="1.2" />
<polygon points="904.25,329.70 906.65,336.20 901.85,336.20" fill="#1a1a1a"/>
<polygon points="904.25,387.30 901.85,380.80 906.65,380.80" fill="#1a1a1a"/>
<line x1="933.75" y1="269.00" x2="933.75" y2="393.50" stroke="#262626" stroke-width="1.2" />
<polygon points="933.75,269.00 936.15,275.50 931.35,275.50" fill="#1a1a1a"/>
<polygon points="933.75,393.50 931.35,387.00 936.15,387.00" fill="#1a1a1a"/>
<line x1="883.50" y1="367.20" x2="883.50" y2="383.30" stroke="#262626" stroke-width="1.2" />
<polygon points="883.50,367.20 885.90,373.70 881.10,373.70" fill="#1a1a1a"/>
<polygon points="883.50,383.30 881.10,376.80 885.90,376.80" fill="#1a1a1a"/>
<line x1="436.40" y1="372.00" x2="436.40" y2="428.00" stroke="#262626" stroke-width="1.2" />
<polygon points="436.40,372.00 438.80,378.50 434.00,378.50" fill="#1a1a1a"/>
<polygon points="436.40,428.00 434.00,421.50 438.80,421.50" fill="#1a1a1a"/>
<line x1="462.80" y1="392.70" x2="462.80" y2="408.00" stroke="#262626" stroke-width="1.2" />
<polygon points="462.80,392.70 465.20,399.20 460.40,399.20" fill="#1a1a1a"/>
<polygon points="462.80,408.00 460.40,401.50 465.20,401.50" fill="#1a1a1a"/>
<path d="M477.40,397.00 C481.17,397.92 490.40,400.50 500.00,402.50 C509.60,404.50 520.00,406.50 535.00,409.00 C550.00,411.50 572.50,415.28 590.00,417.50 C607.50,419.72 625.00,421.22 640.00,422.30 C655.00,423.38 666.67,423.83 680.00,424.00 C693.33,424.17 708.33,423.67 720.00,423.30 C731.67,422.93 738.75,422.60 750.00,421.80 C761.25,421.00 777.08,420.47 787.50,418.50 C797.92,416.53 806.08,412.83 812.50,410.00 C818.92,407.17 823.75,402.92 826.00,401.50 L855.7,379" fill="none" stroke="#262626" stroke-width="1.3" stroke-linejoin="round" stroke-linecap="round" />
<ellipse cx="574.25" cy="330" rx="3.2" ry="1.9" fill="#111"/>
<ellipse cx="701.25" cy="354.25" rx="3.2" ry="1.9" fill="#111"/>
<ellipse cx="496.25" cy="392.2" rx="3.2" ry="1.9" fill="#111"/>
<ellipse cx="590" cy="406" rx="3.2" ry="1.9" fill="#111"/>
<ellipse cx="688" cy="415" rx="3.2" ry="1.9" fill="#111"/>
<ellipse cx="837.5" cy="383.75" rx="3.2" ry="1.9" fill="#111"/>
<ellipse cx="763.75" cy="392" rx="7.5" ry="3.9" fill="#fff" stroke="#262626" stroke-width="1"/>
<ellipse cx="763.75" cy="392" rx="4" ry="2.1" fill="#ddd" stroke="#262626" stroke-width="0.9"/>
<line x1="746.25" y1="388.30" x2="886.50" y2="415.80" stroke="#262626" stroke-width="1.2" />
<line x1="776.50" y1="381.30" x2="650.00" y2="482.70" stroke="#262626" stroke-width="1.2" />
<line x1="438.80" y1="429.00" x2="660.00" y2="473.30" stroke="#262626" stroke-width="1.2" />
<polygon points="438.80,429.00 445.64,427.92 444.70,432.63" fill="#1a1a1a"/>
<polygon points="660.00,473.30 653.16,474.38 654.10,469.67" fill="#1a1a1a"/>
<line x1="875.00" y1="412.00" x2="903.30" y2="389.60" stroke="#262626" stroke-width="1.2" />
<polygon points="875.00,412.00 878.61,406.08 881.59,409.85" fill="#1a1a1a"/>
<polygon points="903.30,389.60 899.69,395.52 896.71,391.75" fill="#1a1a1a"/>
<text transform="matrix(0.9800,0.1960,0.0000,1.0000,714.50,125.00)" x="0" y="5.94" font-family="Liberation Sans" font-size="16.5" fill="#222" text-anchor="middle">160</text>
<text transform="matrix(0.9800,0.1960,0.0000,1.0000,705.75,158.00)" x="0" y="5.94" font-family="Liberation Sans" font-size="16.5" fill="#222" text-anchor="middle">150</text>
<text transform="matrix(0.9800,0.1960,0.0000,1.0000,672.00,184.00)" x="0" y="5.94" font-family="Liberation Sans" font-size="16.5" fill="#222" text-anchor="middle">115</text>
<text transform="matrix(0.9800,0.1960,0.0000,1.0000,672.00,236.20)" x="0" y="5.94" font-family="Liberation Sans" font-size="16.5" fill="#222" text-anchor="middle">110</text>
<text transform="matrix(0.9800,0.1960,0.0000,1.0000,634.50,253.80)" x="0" y="5.94" font-family="Liberation Sans" font-size="16.5" fill="#222" text-anchor="middle">65</text>
<text transform="matrix(0.9800,0.1960,0.0000,1.0000,551.30,442.50)" x="0" y="5.94" font-family="Liberation Sans" font-size="16.5" fill="#222" text-anchor="middle">126</text>
<text transform="matrix(0.9000,-0.7100,0.0000,1.0200,519.80,202.00)" x="0" y="5.94" font-family="Liberation Sans" font-size="16.5" fill="#222" text-anchor="middle">105</text>
<text transform="matrix(0.9000,-0.7100,0.0000,1.0200,537.20,242.40)" x="0" y="5.94" font-family="Liberation Sans" font-size="16.5" fill="#222" text-anchor="middle">65</text>
<text transform="matrix(0.9000,-0.7100,0.0000,1.0200,563.10,246.40)" x="0" y="5.94" font-family="Liberation Sans" font-size="16.5" fill="#222" text-anchor="middle">15</text>
<text x="902.24" y="357.00" font-family="Liberation Sans" font-size="16.5" font-weight="normal" fill="#222" text-anchor="middle" transform="rotate(-90.00 902.24 357.00)" >35</text>
<text x="928.94" y="335.80" font-family="Liberation Sans" font-size="16.5" font-weight="normal" fill="#222" text-anchor="middle" transform="rotate(-90.00 928.94 335.80)" >75</text>
<text x="879.38" y="373.80" font-family="Liberation Sans" font-size="15.5" font-weight="normal" fill="#222" text-anchor="middle" transform="rotate(-90.00 879.38 373.80)" >10</text>
<text transform="matrix(0.0000,-1.0000,0.7800,-0.6200,428.30,408.50)" x="0" y="5.58" font-family="Liberation Sans" font-size="15.5" fill="#222" text-anchor="middle">35</text>
<text transform="matrix(0.0000,-1.0000,0.7800,-0.6200,453.30,407.30)" x="0" y="5.58" font-family="Liberation Sans" font-size="15.5" fill="#222" text-anchor="middle">10</text>
<text transform="matrix(0.8000,-0.6200,0.2500,0.9700,876.50,398.50)" x="0" y="5.94" font-family="Liberation Sans" font-size="16.5" fill="#222" text-anchor="middle">34</text>
<rect x="771" y="35.3" width="2.2" height="1.6" fill="#9a9a9a"/>
</g>
<g id="legend">
<rect x="402.6" y="491.3" width="327.9" height="152.49999999999994" fill="#fff" stroke="#4c4c4c" stroke-width="1.4"/>
<line x1="402.60" y1="541.40" x2="730.50" y2="541.40" stroke="#4c4c4c" stroke-width="1.4" />
<line x1="402.60" y1="592.60" x2="730.50" y2="592.60" stroke="#4c4c4c" stroke-width="1.4" />
<rect x="747.2" y="491.3" width="327.79999999999995" height="152.49999999999994" fill="#fff" stroke="#4c4c4c" stroke-width="1.4"/>
<line x1="747.20" y1="542.00" x2="1075.00" y2="542.00" stroke="#4c4c4c" stroke-width="1.4" />
<line x1="747.20" y1="593.00" x2="1075.00" y2="593.00" stroke="#4c4c4c" stroke-width="1.4" />
<rect x="407.20000000000005" y="495.0" width="45.599999999999966" height="45.599999999999966" rx="4" fill="#d6d6d6"/>
<rect x="405.6" y="493.2" width="45.599999999999966" height="45.599999999999966" rx="4" fill="#fff" stroke="#2e2e2e" stroke-width="1.2"/>
<rect x="420.8" y="508.8" width="14.2" height="14.4" rx="0.8" fill="#161616"/>
<text x="427.90" y="520.60" font-family="Liberation Sans" font-size="12.5" font-weight="bold" fill="#fff" text-anchor="middle" >Y</text>
<rect x="407.20000000000005" y="545.5999999999999" width="45.599999999999966" height="45.5" rx="4" fill="#d6d6d6"/>
<rect x="405.6" y="543.8" width="45.599999999999966" height="45.5" rx="4" fill="#fff" stroke="#2e2e2e" stroke-width="1.2"/>
<clipPath id="ic2"><rect x="405.6" y="543.8" width="45.6" height="45.5" rx="4"/></clipPath>
<g clip-path="url(#ic2)">
<path d="M436.5,544.2 L408.2,563.8 Q430,574 449.2,588" fill="none" stroke="#262626" stroke-width="1.1" stroke-linejoin="round" stroke-linecap="round" />
</g>
<circle cx="439.5" cy="547.6" r="1.7" fill="#111"/>
<circle cx="417" cy="564.6" r="1.7" fill="#111"/>
<circle cx="445" cy="581.3" r="1.7" fill="#111"/>
<clipPath id="ic3"><rect x="407" y="595" width="45.5" height="45" rx="4.5"/></clipPath>
<rect x="408.6" y="596.8" width="45.5" height="45" rx="4.5" fill="#d6d6d6"/>
<rect x="407" y="595" width="45.5" height="45" rx="4.5" fill="#cfcfd1" stroke="#222" stroke-width="1.4"/>
<g clip-path="url(#ic3)">
<line x1="418.38" y1="595.00" x2="418.38" y2="640.00" stroke="#222" stroke-width="1.3" />
<line x1="407.00" y1="606.25" x2="452.50" y2="606.25" stroke="#222" stroke-width="1.3" />
<line x1="429.75" y1="595.00" x2="429.75" y2="640.00" stroke="#222" stroke-width="1.3" />
<line x1="407.00" y1="617.50" x2="452.50" y2="617.50" stroke="#222" stroke-width="1.3" />
<line x1="441.12" y1="595.00" x2="441.12" y2="640.00" stroke="#222" stroke-width="1.3" />
<line x1="407.00" y1="628.75" x2="452.50" y2="628.75" stroke="#222" stroke-width="1.3" />
</g>
<clipPath id="ir1"><rect x="751.8" y="492.2" width="46.2" height="46" rx="5"/></clipPath>
<rect x="753.4" y="494.0" width="46.200000000000045" height="46.00000000000006" rx="5" fill="#d6d6d6"/>
<rect x="751.8" y="492.2" width="46.200000000000045" height="46.00000000000006" rx="5" fill="#fff" stroke="#1c1c1c" stroke-width="1.6"/>
<g clip-path="url(#ir1)">
<line x1="757.57" y1="492.00" x2="757.57" y2="539.00" stroke="#1c1c1c" stroke-width="2.3" />
<line x1="751.00" y1="497.95" x2="799.00" y2="497.95" stroke="#1c1c1c" stroke-width="2.3" />
<line x1="763.35" y1="492.00" x2="763.35" y2="539.00" stroke="#1c1c1c" stroke-width="2.3" />
<line x1="751.00" y1="503.70" x2="799.00" y2="503.70" stroke="#1c1c1c" stroke-width="2.3" />
<line x1="769.12" y1="492.00" x2="769.12" y2="539.00" stroke="#1c1c1c" stroke-width="2.3" />
<line x1="751.00" y1="509.45" x2="799.00" y2="509.45" stroke="#1c1c1c" stroke-width="2.3" />
<line x1="774.90" y1="492.00" x2="774.90" y2="539.00" stroke="#1c1c1c" stroke-width="2.3" />
<line x1="751.00" y1="515.20" x2="799.00" y2="515.20" stroke="#1c1c1c" stroke-width="2.3" />
<line x1="780.67" y1="492.00" x2="780.67" y2="539.00" stroke="#1c1c1c" stroke-width="2.3" />
<line x1="751.00" y1="520.95" x2="799.00" y2="520.95" stroke="#1c1c1c" stroke-width="2.3" />
<line x1="786.45" y1="492.00" x2="786.45" y2="539.00" stroke="#1c1c1c" stroke-width="2.3" />
<line x1="751.00" y1="526.70" x2="799.00" y2="526.70" stroke="#1c1c1c" stroke-width="2.3" />
<line x1="792.22" y1="492.00" x2="792.22" y2="539.00" stroke="#1c1c1c" stroke-width="2.3" />
<line x1="751.00" y1="532.45" x2="799.00" y2="532.45" stroke="#1c1c1c" stroke-width="2.3" />
</g>
<rect x="751.6" y="545.5999999999999" width="45.799999999999955" height="45.5" rx="4.5" fill="#d6d6d6"/>
<rect x="750" y="543.8" width="45.799999999999955" height="45.5" rx="4.5" fill="#b5b5b8" stroke="#444" stroke-width="1.2"/>
<defs><pattern id="dots2" width="6.9" height="6.85" patternUnits="userSpaceOnUse" patternTransform="translate(755.9,597.2)"><circle cx="0" cy="0" r="1.05" fill="#111"/><circle cx="6.9" cy="0" r="1.05" fill="#111"/><circle cx="0" cy="6.85" r="1.05" fill="#111"/><circle cx="6.9" cy="6.85" r="1.05" fill="#111"/><circle cx="3.45" cy="3.42" r="1.05" fill="#111"/></pattern></defs>
<rect x="751.6" y="596.8" width="46.299999999999955" height="45" rx="4.5" fill="#d6d6d6"/>
<rect x="750" y="595" width="46.299999999999955" height="45" rx="4.5" fill="#f3f3f4" stroke="#2e2e2e" stroke-width="1.2"/>
<rect x="750.6" y="595.6" width="45.1" height="43.8" rx="4" fill="url(#dots2)"/>
<text x="463.80" y="512.60" font-family="Liberation Serif" font-size="14" font-weight="normal" fill="#333" text-anchor="start" textLength="218.2" lengthAdjust="spacingAndGlyphs" stroke="#333" stroke-width="0.35">Рекомендуемое место расположения</text>
<text x="463.80" y="527.10" font-family="Liberation Serif" font-size="14" font-weight="normal" fill="#333" text-anchor="start" stroke="#333" stroke-width="0.35">независимого смесителя в стене</text>
<text x="463.80" y="571.40" font-family="Liberation Serif" font-size="14" font-weight="normal" fill="#333" text-anchor="start" textLength="125.5" lengthAdjust="spacingAndGlyphs" stroke="#333" stroke-width="0.35">Регулируемые опоры</text>
<text x="463.80" y="606.80" font-family="Liberation Serif" font-size="14" font-weight="normal" fill="#333" text-anchor="start" textLength="167.4" lengthAdjust="spacingAndGlyphs" stroke="#333" stroke-width="0.35">Рекомендуемая зона вывода</text>
<text x="463.80" y="621.30" font-family="Liberation Serif" font-size="14" font-weight="normal" fill="#333" text-anchor="start" textLength="145" lengthAdjust="spacingAndGlyphs" stroke="#333" stroke-width="0.35">канализационной трубы</text>
<text x="463.80" y="635.60" font-family="Liberation Serif" font-size="14" font-weight="normal" fill="#333" text-anchor="start" textLength="88.7" lengthAdjust="spacingAndGlyphs" stroke="#333" stroke-width="0.35">D 4-5 см в полу</text>
<text x="809.60" y="504.50" font-family="Liberation Serif" font-size="14" font-weight="normal" fill="#333" text-anchor="start" textLength="166.7" lengthAdjust="spacingAndGlyphs" stroke="#333" stroke-width="0.35">Рекомендуемая зона вывода</text>
<text x="809.60" y="518.80" font-family="Liberation Serif" font-size="14" font-weight="normal" fill="#333" text-anchor="start" textLength="144.7" lengthAdjust="spacingAndGlyphs" stroke="#333" stroke-width="0.35">канализационной трубы</text>
<text x="809.60" y="532.60" font-family="Liberation Serif" font-size="14" font-weight="normal" fill="#333" text-anchor="start" textLength="92.4" lengthAdjust="spacingAndGlyphs" stroke="#333" stroke-width="0.35">D 4-5 см в стене</text>
<text x="809.60" y="563.80" font-family="Liberation Serif" font-size="14" font-weight="normal" fill="#333" text-anchor="start" stroke="#333" stroke-width="0.35">Рекомендуемая зона</text>
<text x="809.60" y="578.10" font-family="Liberation Serif" font-size="14" font-weight="normal" fill="#333" text-anchor="start" textLength="183.5" lengthAdjust="spacingAndGlyphs" stroke="#333" stroke-width="0.35">вывода кабеля электропитания</text>
<text x="809.60" y="605.80" font-family="Liberation Serif" font-size="14" font-weight="normal" fill="#333" text-anchor="start" textLength="166.7" lengthAdjust="spacingAndGlyphs" stroke="#333" stroke-width="0.35">Рекомендуемая зона вывода</text>
<text x="809.60" y="620.10" font-family="Liberation Serif" font-size="14" font-weight="normal" fill="#333" text-anchor="start" textLength="144.2" lengthAdjust="spacingAndGlyphs" stroke="#333" stroke-width="0.35">труб водоснабжения для</text>
<text x="809.60" y="634.30" font-family="Liberation Serif" font-size="14" font-weight="normal" fill="#333" text-anchor="start" textLength="220" lengthAdjust="spacingAndGlyphs" stroke="#333" stroke-width="0.35">подключения встроенного смесителя</text>
<rect x="680.85" y="597.05" width="45.950000000000045" height="45.950000000000045" rx="3.6" fill="#d6d6d6"/>
<rect x="679.25" y="595.25" width="45.950000000000045" height="45.950000000000045" rx="3.6" fill="#fff" stroke="#2e2e2e" stroke-width="1.2"/>
<path d="M682.12,619.62 L682.25,622.88 Q686.44,626.19 690.88,622.88 L691.00,619.62 Z" fill="#2a2a2a" stroke="#222" stroke-width="1.0" stroke-linejoin="round" stroke-linecap="round"/>
<ellipse cx="686.62" cy="617.88" rx="5.25" ry="1.62" fill="#fff" stroke="#222" stroke-width="1.0"/>
<path d="M683.62,617.62 L683.62,604.31 Q683.88,600.25 688.31,600.25 Q691.12,600.38 693.31,601.50 L690.81,609.00 Q690.19,609.75 690.19,611.19 L690.19,617.62 Q686.75,619.00 683.62,617.62 Z" fill="#fff" stroke="#222" stroke-width="1.0" stroke-linejoin="round" stroke-linecap="round"/>
<path d="M693.31,601.38 Q697.06,601.81 700.00,605.38 Q703.75,609.94 705.62,614.31 L704.75,617.00 L695.00,617.00 L694.62,614.75 Q696.75,612.75 695.75,610.62 Q694.75,609.62 690.81,609.00 Z" fill="#fff" stroke="#222" stroke-width="1.0" stroke-linejoin="round" stroke-linecap="round"/>
<path d="M693.62,601.62 Q691.25,604.62 691.00,608.88 " fill="none" stroke="#222" stroke-width="2.6" stroke-linejoin="round" stroke-linecap="round"/>
<path d="M696.25,602.75 Q694.12,605.88 694.38,609.75 " fill="none" stroke="#222" stroke-width="1.1" stroke-linejoin="round" stroke-linecap="round"/>
<path d="M694.38,609.75 L696.12,610.88 L694.38,612.75 L695.50,614.62 " fill="none" stroke="#222" stroke-width="1.0" stroke-linejoin="round" stroke-linecap="round"/>
<path d="M703.00,612.12 L702.06,615.56 " fill="none" stroke="#222" stroke-width="1.0" stroke-linejoin="round" stroke-linecap="round"/>
<path d="M693.62,619.50 L696.75,618.25 L705.50,618.00 L710.62,621.00 L709.25,629.00 L708.38,630.88 L708.38,634.00 L693.62,624.12 Z" fill="#fff" stroke="#222" stroke-width="1.0" stroke-linejoin="round" stroke-linecap="round"/>
<path d="M693.62,621.50 L708.38,631.00 " fill="none" stroke="#222" stroke-width="1.0" stroke-linejoin="round" stroke-linecap="round"/>
<path d="M694.56,617.00 Q694.38,619.00 696.75,619.75 Q699.88,620.56 703.00,619.62 Q705.00,618.88 704.88,617.00 Z" fill="#fff" stroke="#222" stroke-width="1.0" stroke-linejoin="round" stroke-linecap="round"/>
<ellipse cx="699.69" cy="617.00" rx="5.12" ry="1.69" fill="#8c8c8c" stroke="#222" stroke-width="1.1"/>
<path d="M709.06,628.06 Q708.50,632.12 710.50,634.00 Q714.56,636.50 718.50,634.00 Q720.00,632.12 719.75,628.06 Z" fill="#fff" stroke="#222" stroke-width="1.0" stroke-linejoin="round" stroke-linecap="round"/>
<path d="M708.94,622.62 L709.25,626.81 Q714.56,630.56 720.00,626.81 L720.31,622.62 Z" fill="#fff" stroke="#222" stroke-width="1.0" stroke-linejoin="round" stroke-linecap="round"/>
<ellipse cx="714.62" cy="622.50" rx="5.69" ry="2.75" fill="#fff" stroke="#222" stroke-width="1.2"/>
<ellipse cx="714.62" cy="623.25" rx="4.25" ry="1.88" fill="#e8e8e8" stroke="#222" stroke-width="1.0"/>
<path d="M710.19,623.88 Q714.56,626.81 719.12,623.88 " fill="none" stroke="#222" stroke-width="1.8" stroke-linejoin="round" stroke-linecap="round"/>
<path d="M709.44,627.00 Q714.56,630.56 719.75,627.00 " fill="none" stroke="#222" stroke-width="1.8" stroke-linejoin="round" stroke-linecap="round"/>
<rect x="1025.2" y="494.7" width="46.499999999999886" height="46.200000000000045" rx="3.6" fill="#d6d6d6"/>
<rect x="1023.6" y="492.9" width="46.499999999999886" height="46.200000000000045" rx="3.6" fill="#fff" stroke="#2e2e2e" stroke-width="1.2"/>
<path d="M1023.88,529.12 L1040.75,520.06 " fill="none" stroke="#222" stroke-width="1.1" stroke-linejoin="round" stroke-linecap="round"/>
<path d="M1052.62,511.62 L1069.81,501.62 " fill="none" stroke="#222" stroke-width="1.1" stroke-linejoin="round" stroke-linecap="round"/>
<path d="M1026.69,499.75 L1031.38,495.75 L1034.62,497.38 L1030.75,504.50 L1027.94,503.50 Z" fill="#2a2a2a" stroke="#222" stroke-width="1.0" stroke-linejoin="round" stroke-linecap="round"/>
<path d="M1033.88,501.31 L1037.00,497.75 L1042.31,500.38 L1039.38,506.75 L1034.50,505.50 Q1033.25,503.50 1033.88,501.31 Z" fill="#fff" stroke="#222" stroke-width="1.0" stroke-linejoin="round" stroke-linecap="round"/>
<path d="M1037.12,497.88 Q1034.25,501.00 1034.75,505.50 " fill="none" stroke="#222" stroke-width="2.0" stroke-linejoin="round" stroke-linecap="round"/>
<path d="M1042.12,500.38 Q1047.00,503.19 1050.12,509.00 L1051.88,512.38 L1050.44,515.69 L1043.88,515.06 L1043.88,512.25 Q1042.75,509.12 1039.25,506.75 Z" fill="#fff" stroke="#222" stroke-width="1.0" stroke-linejoin="round" stroke-linecap="round"/>
<path d="M1042.25,500.50 Q1039.38,503.50 1039.50,506.75 " fill="none" stroke="#222" stroke-width="2.4" stroke-linejoin="round" stroke-linecap="round"/>
<path d="M1044.00,501.75 Q1041.50,505.06 1041.88,508.50 " fill="none" stroke="#222" stroke-width="1.0" stroke-linejoin="round" stroke-linecap="round"/>
<path d="M1040.75,512.25 L1042.12,510.88 L1043.75,511.94 " fill="none" stroke="#222" stroke-width="1.0" stroke-linejoin="round" stroke-linecap="round"/>
<path d="M1050.12,509.75 L1048.88,514.44 " fill="none" stroke="#222" stroke-width="1.0" stroke-linejoin="round" stroke-linecap="round"/>
<path d="M1040.50,520.38 L1042.62,517.25 L1052.00,516.00 L1057.75,519.12 L1057.94,526.00 L1057.12,531.00 L1057.12,534.12 Q1055.12,533.50 1041.38,526.12 Q1040.25,525.06 1040.50,520.38 Z" fill="#fff" stroke="#222" stroke-width="1.0" stroke-linejoin="round" stroke-linecap="round"/>
<path d="M1040.75,522.25 L1057.12,531.00 " fill="none" stroke="#222" stroke-width="1.0" stroke-linejoin="round" stroke-linecap="round"/>
<ellipse cx="1046.75" cy="516.62" rx="4.75" ry="2.12" fill="#fff" stroke="#222" stroke-width="1.1"/>
<path d="M1042.62,517.56 Q1046.75,520.38 1051.06,517.56 " fill="none" stroke="#222" stroke-width="1.0" stroke-linejoin="round" stroke-linecap="round"/>
<path d="M1057.38,526.94 Q1057.00,531.62 1059.50,533.00 Q1062.94,534.75 1066.06,533.00 Q1068.56,531.62 1068.12,526.94 Z" fill="#fff" stroke="#222" stroke-width="1.0" stroke-linejoin="round" stroke-linecap="round"/>
<path d="M1057.31,521.50 L1057.62,526.00 Q1062.75,529.44 1067.94,526.00 L1068.25,521.50 Z" fill="#fff" stroke="#222" stroke-width="1.0" stroke-linejoin="round" stroke-linecap="round"/>
<ellipse cx="1062.75" cy="521.38" rx="5.50" ry="2.75" fill="#fff" stroke="#222" stroke-width="1.2"/>
<ellipse cx="1062.75" cy="522.12" rx="4.12" ry="1.88" fill="#e8e8e8" stroke="#222" stroke-width="1.0"/>
<path d="M1058.56,522.75 Q1062.75,525.50 1067.12,522.75 " fill="none" stroke="#222" stroke-width="1.8" stroke-linejoin="round" stroke-linecap="round"/>
<path d="M1057.81,526.12 Q1062.75,529.44 1067.75,526.12 " fill="none" stroke="#222" stroke-width="1.8" stroke-linejoin="round" stroke-linecap="round"/>
</g>
</svg>
</body></html>
